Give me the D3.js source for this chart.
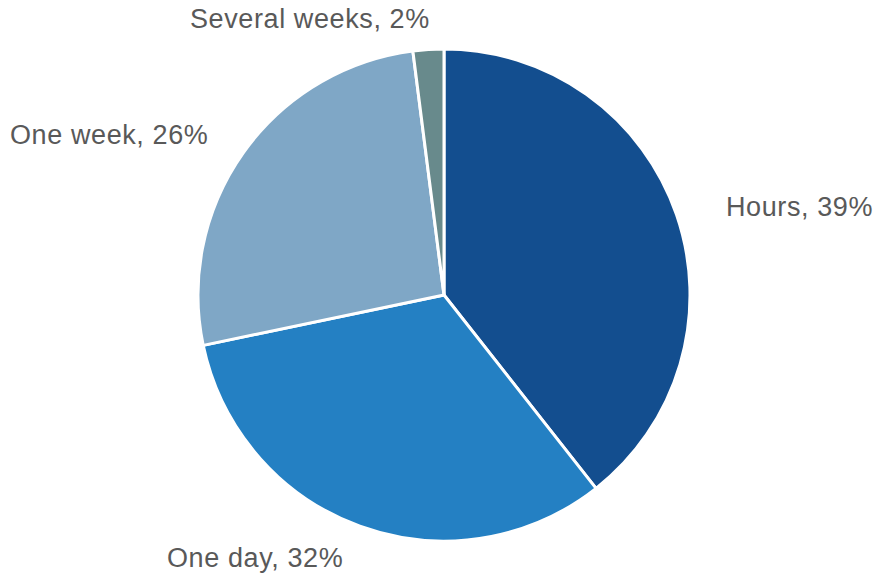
<!DOCTYPE html>
<html><head><meta charset="utf-8">
<script src="https://cdn.jsdelivr.net/npm/d3@7"></script>
<style>html,body{margin:0;padding:0;background:#fff;}</style>
</head><body>
<svg id="chart" width="875" height="575"></svg>
<script>
const categories = ["Hours", "One day", "One week", "Several weeks"];
const values = [39, 32, 26, 2];
const colors = ["#134E8F", "#2480C3", "#7FA7C6", "#688A8C"];
// label anchor positions (layout)
const labelPos = [
  {x: 726, y: 216, anchor: "start"},
  {x: 167, y: 567, anchor: "start"},
  {x: 10, y: 144, anchor: "start"},
  {x: 190, y: 28, anchor: "start"}
];

const svg = d3.select("#chart");
const cx = 444, cy = 295, r = 246;
const data = categories.map((c, i) => ({cat: c, value: values[i], i}));
const pie = d3.pie().value(d => d.value).sort(null);
const arc = d3.arc().innerRadius(0).outerRadius(r);
const g = svg.append("g").attr("transform", `translate(${cx},${cy})`);
g.selectAll("path").data(pie(data)).join("path")
  .attr("d", arc)
  .attr("fill", d => colors[d.data.i])
  .attr("stroke", "#fff")
  .attr("stroke-width", 3)
  .attr("stroke-linejoin", "round");

svg.selectAll("text.lbl").data(data).join("text")
  .attr("class", "lbl")
  .attr("x", d => labelPos[d.i].x)
  .attr("y", d => labelPos[d.i].y)
  .attr("text-anchor", d => labelPos[d.i].anchor)
  .attr("font-family", "Liberation Sans, Arial, sans-serif")
  .attr("font-size", 27)
  .attr("letter-spacing", 0.6)
  .attr("fill", "#595959")
  .text(d => `${d.cat}, ${d.value}%`);
</script>
</body></html>
